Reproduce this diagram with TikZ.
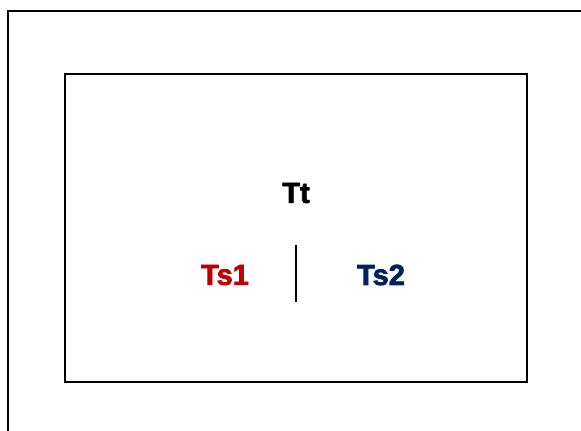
\documentclass[tikz,border=0pt]{standalone}
\usepackage{fontspec}
\setmainfont{Liberation Sans}
\newfontfamily\heavyfont[FakeBold=2.5]{Liberation Sans Bold}
\usepackage{tikz}
\usetikzlibrary{positioning}
\definecolor{tsred}{HTML}{C00000}
\definecolor{tsblue}{HTML}{002060}

\begin{document}
\begin{tikzpicture}[x=1pt,y=-1pt, style={font=\heavyfont\fontsize{29}{32}\selectfont, inner sep=0pt}, line width=2pt]
       \clip (0,0) rectangle (581,431);
       \draw (8,11) rectangle (620,470);
       \draw (65,74) rectangle (527,382);
       \node (tt) at (296,193) {Tt};
       \node [text=tsred] (ts1) at (225,275) {Ts1};
       \node [text=tsblue] (ts2) at (381,275) {Ts2};
       \coordinate (top) at (296,245);
       \coordinate (bot) at (296,302);
       \draw (top) -- (bot);
   \end{tikzpicture}
\end{document}
